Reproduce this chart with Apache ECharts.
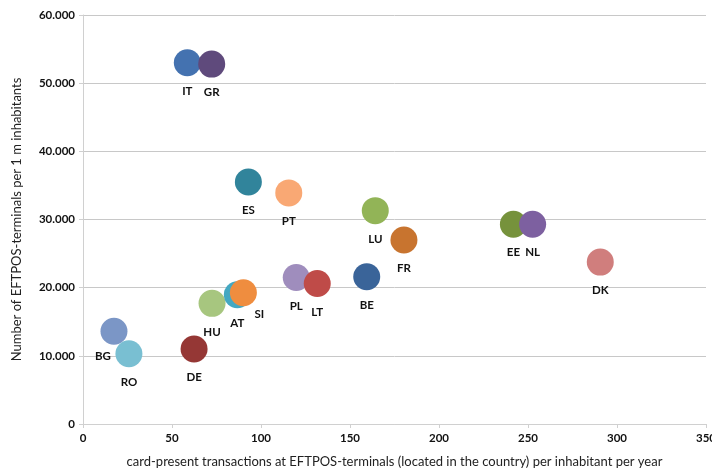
<!DOCTYPE html>
<html>
<head>
<meta charset="utf-8">
<script src="https://cdn.jsdelivr.net/npm/echarts@6/dist/echarts.min.js"></script>
<style>html,body{margin:0;padding:0;background:#fff;}#c{width:712px;height:470px;}</style>
</head>
<body>
<div id="c"></div>
<script>
// Data (drawing order)
const countries = ['BG','RO','DE','HU','AT','SI','IT','GR','ES','PT','PL','LT','BE','LU','FR','EE','NL','DK'];
const transactions = [17.4, 25.8, 62.4, 72.5, 86.7, 90.1, 58.6, 72.3, 92.9, 115.6, 119.8, 131.6, 159.4, 164.2, 180.3, 241.8, 252.6, 290.6];
const terminals = [13600, 10300, 11000, 17700, 18950, 19250, 53000, 52800, 35500, 33900, 21500, 20600, 21600, 31300, 27000, 29300, 29300, 23750];
const xTicks = [0, 50, 100, 150, 200, 250, 300, 350];
const yTicks = [0, 10000, 20000, 30000, 40000, 50000, 60000];

// Styles
const palette = {
  BG:'#7b96c6', RO:'#79bfd2', DE:'#953735', HU:'#a7c67f', AT:'#44a8c2', SI:'#ef8d3f',
  IT:'#4472b0', GR:'#5f4a7c', ES:'#31849b', PT:'#f9a874', PL:'#9f8dbd', LT:'#bf4b48',
  BE:'#3a6499', LU:'#92b457', FR:'#c8742f', EE:'#76923c', NL:'#7d60a0', DK:'#d07e7d'
};
const labelOffsets = { BG:[-11,-3], SI:[16,-7] };

const fmt = v => v.toLocaleString('de-DE');

const data = countries.map((c, i) => {
  const item = {
    name: c,
    value: [transactions[i], terminals[i]],
    itemStyle: { color: palette[c], opacity: 1 }
  };
  if (labelOffsets[c]) item.label = { offset: labelOffsets[c] };
  return item;
});

const chart = echarts.init(document.getElementById('c'));
const font = 'Lato, "Open Sans", sans-serif';
chart.setOption({
  animation: false,
  grid: { left: 83, right: 6, top: 15, bottom: 46, containLabel: false, outerBoundsMode: 'none' },
  xAxis: {
    type: 'value', min: xTicks[0], max: xTicks[xTicks.length-1], interval: 50,
    name: 'card-present transactions at EFTPOS-terminals (located in the country) per inhabitant per year',
    nameLocation: 'middle', nameGap: 31,
    nameTextStyle: { fontFamily: font, fontSize: 13, color: '#222' },
    axisLine: { lineStyle: { color: '#d0d0d0', width: 1 } },
    axisTick: { show: true, length: 4, lineStyle: { color: '#d0d0d0' } },
    axisLabel: { fontFamily: font, fontSize: 11.5, fontWeight: 'bold', color: '#111', margin: 8 },
    splitLine: { show: false }
  },
  yAxis: {
    type: 'value', min: yTicks[0], max: yTicks[yTicks.length-1], interval: 10000,
    name: 'Number of EFTPOS-terminals per 1 m inhabitants',
    nameLocation: 'middle', nameGap: 60, nameRotate: 90,
    nameTextStyle: { fontFamily: font, fontSize: 13, color: '#222' },
    axisLine: { show: true, lineStyle: { color: '#d0d0d0', width: 1 } },
    axisTick: { show: true, length: 4, lineStyle: { color: '#d0d0d0' } },
    axisLabel: { fontFamily: font, fontSize: 11.5, fontWeight: 'bold', color: '#111', margin: 8, formatter: fmt },
    splitLine: { show: true, lineStyle: { color: '#c8c8c8', width: 1 } }
  },
  series: [{
    type: 'scatter',
    symbolSize: 27,
    data: data,
    label: {
      show: true, position: 'bottom', distance: 9,
      formatter: p => p.name,
      fontFamily: font, fontSize: 11.5, fontWeight: 'bold', color: '#111'
    },
    emphasis: { disabled: true }
  }]
});
</script>
</body>
</html>
